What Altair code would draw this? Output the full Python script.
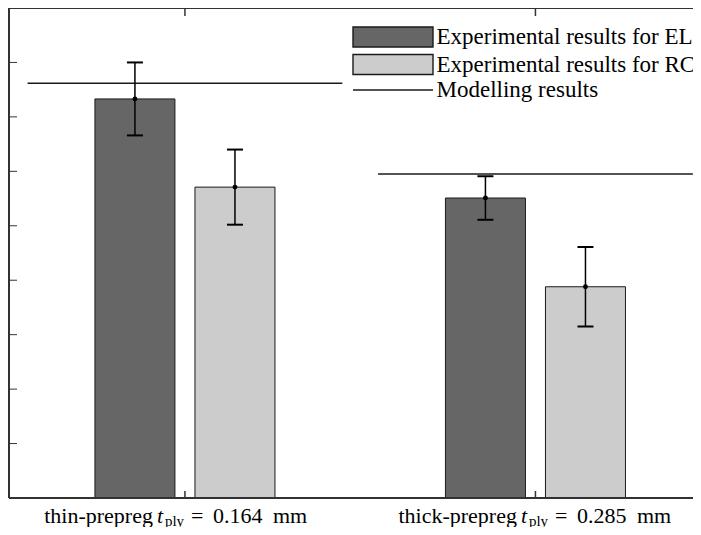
import altair as alt
import pandas as pd

# ---------------- data ----------------
groups = [1, 2]
group_prefix = ["thin-prepreg", "thick-prepreg"]
group_number = ["0.164", "0.285"]
series_names = ["Experimental results for EL", "Experimental results for RC", "Modelling results"]
el_mean = [7.33, 5.51]
el_err = [0.67, 0.40]
rc_mean = [5.71, 3.88]
rc_err = [0.69, 0.73]
model_value = [7.62, 5.95]
y_tick_values = [1, 2, 3, 4, 5, 6, 7, 8]

# ---------------- style ----------------
fill_colors = ["#666666", "#cccccc", "#000000"]
rect_path = "M-4,-1L4,-1L4,1L-4,1Z"
line_path = "M-4,0L4,0"
FONT = "'Liberation Serif', 'Times New Roman', 'DejaVu Serif', serif"
INK = "#1a1a1a"
BAR_OFF = 0.1427
MODEL_HALF = 0.449

W, H = 684, 490
xs = alt.Scale(domain=[0.498, 2.4495], nice=False, zero=False, padding=0)
ys = alt.Scale(domain=[0, 9], nice=False, zero=False, padding=0)
fill_scale = alt.Scale(domain=series_names, range=fill_colors)
shape_scale = alt.Scale(domain=series_names, range=[rect_path, rect_path, line_path])

legend_def = alt.Legend(
    title=None, orient="none", legendX=343, legendY=17.5, padding=0,
    symbolSize=400, symbolOffset=29.5, labelOffset=32, symbolStrokeWidth=1.4,
    labelFont=FONT, labelFontSize=23, labelColor="black", labelLimit=600,
    rowPadding=0.5,
)

bar_df = pd.DataFrame({
    "group": groups * 2,
    "series": [series_names[0]] * 2 + [series_names[1]] * 2,
    "mean": el_mean + rc_mean,
    "err": el_err + rc_err,
    "side": [-1, -1, 1, 1],
})
model_df = pd.DataFrame({"group": groups, "value": model_value})
tick_df = pd.DataFrame({"v": y_tick_values})
grp_df = pd.DataFrame({"group": groups, "prefix": group_prefix, "num": group_number,
                       "t": ["t", "t"], "sub": ["ply", "ply"], "eq": ["=", "="], "unit": ["mm", "mm"]})
legend_df = pd.DataFrame({"series": series_names})

base_bar = alt.Chart(bar_df).transform_calculate(
    pos=f"datum.group + datum.side * {BAR_OFF}",
    lo="datum.mean - datum.err",
    hi="datum.mean + datum.err",
)

bars = base_bar.mark_bar(size=80, stroke=INK, strokeWidth=1).encode(
    x=alt.X("pos:Q", scale=xs, axis=None),
    y=alt.Y("mean:Q", scale=ys, axis=None),
    fill=alt.Fill("series:N", scale=fill_scale, legend=legend_def),
)

legend_layer = alt.Chart(legend_df).transform_filter("false").mark_point(
    filled=True, stroke="black", strokeWidth=1.4, opacity=1
).encode(
    fill=alt.Fill("series:N", scale=fill_scale, legend=legend_def),
    shape=alt.Shape("series:N", scale=shape_scale, legend=legend_def),
)

err_rule = base_bar.mark_rule(color="black", strokeWidth=1.5).encode(
    x=alt.X("pos:Q", scale=xs, axis=None),
    y=alt.Y("lo:Q", scale=ys, axis=None),
    y2="hi:Q",
)
cap_lo = base_bar.mark_tick(orient="horizontal", size=16, thickness=2, color="black", opacity=1).encode(
    x=alt.X("pos:Q", scale=xs, axis=None),
    y=alt.Y("lo:Q", scale=ys, axis=None),
)
cap_hi = base_bar.mark_tick(orient="horizontal", size=16, thickness=2, color="black", opacity=1).encode(
    x=alt.X("pos:Q", scale=xs, axis=None),
    y=alt.Y("hi:Q", scale=ys, axis=None),
)
dots = base_bar.mark_circle(size=24, color="black", opacity=1).encode(
    x=alt.X("pos:Q", scale=xs, axis=None),
    y=alt.Y("mean:Q", scale=ys, axis=None),
)

model_lines = alt.Chart(model_df).transform_calculate(
    x1=f"datum.group - {MODEL_HALF}", x2=f"datum.group + {MODEL_HALF}"
).mark_rule(color=INK, strokeWidth=1.5).encode(
    x=alt.X("x1:Q", scale=xs, axis=None),
    x2="x2:Q",
    y=alt.Y("value:Q", scale=ys, axis=None),
)

# frame (left, bottom, top) and inward ticks
frame_top = alt.Chart(tick_df).mark_rule(color="#333333", strokeWidth=1.2).encode(
    y=alt.Y(datum=9, scale=ys, axis=None))
frame_bottom = alt.Chart(tick_df).mark_rule(color="#333333", strokeWidth=1.2).encode(
    y=alt.Y(datum=0, scale=ys, axis=None))
frame_left = alt.Chart(tick_df).mark_rule(color="#333333", strokeWidth=1.2).encode(
    x=alt.X(datum=0.498, scale=xs, axis=None))
left_ticks = alt.Chart(tick_df).mark_rule(color="#333333", strokeWidth=1).encode(
    y=alt.Y("v:Q", scale=ys, axis=None), x=alt.value(0), x2=alt.value(8))
top_ticks = alt.Chart(grp_df).mark_rule(color="#333333", strokeWidth=1.5).encode(
    x=alt.X("group:Q", scale=xs, axis=None), y=alt.value(0), y2=alt.value(8))
bottom_ticks = alt.Chart(grp_df).mark_rule(color="#333333", strokeWidth=1.5).encode(
    x=alt.X("group:Q", scale=xs, axis=None), y=alt.value(H), y2=alt.value(H - 7))

# category labels built from pieces: prefix, italic t, subscript ply, "=", number, unit
label_layers = []
t_anchor = [-28, -14.5]
BASE = H + 25
for i, g in enumerate(groups):
    T = t_anchor[i]
    src = alt.Chart(grp_df).transform_filter(f"datum.group == {g}")
    xenc = alt.X("group:Q", scale=xs, axis=None)
    pieces = [
        ("prefix", "right", T - 4, 22, "normal", 0),
        ("t", "left", T, 22, "italic", 0),
        ("sub", "left", T + 8, 15, "normal", 2.5),
        ("eq", "left", T + 34, 22, "normal", 0),
        ("num", "left", T + 56, 22, "normal", 0),
        ("unit", "left", T + 116, 22, "normal", 0),
    ]
    for field, align, dx, fs, style, drop in pieces:
        label_layers.append(
            src.mark_text(align=align, baseline="alphabetic", dx=dx, font=FONT,
                          fontSize=fs, fontStyle=style, color="black").encode(
                x=xenc, y=alt.value(BASE + drop), text=f"{field}:N"))

chart = alt.layer(
    bars, legend_layer, model_lines, err_rule, cap_lo, cap_hi, dots,
    frame_top, frame_bottom, frame_left, left_ticks, top_ticks, bottom_ticks,
    *label_layers,
).properties(
    width=W, height=H,
    padding={"left": 1, "top": 0, "right": 0, "bottom": 29},
    autosize=alt.AutoSizeParams(type="none"),
    background="white",
).configure_view(stroke=None)

chart.save("out.html", embed_options={"renderer": "svg", "actions": False})
